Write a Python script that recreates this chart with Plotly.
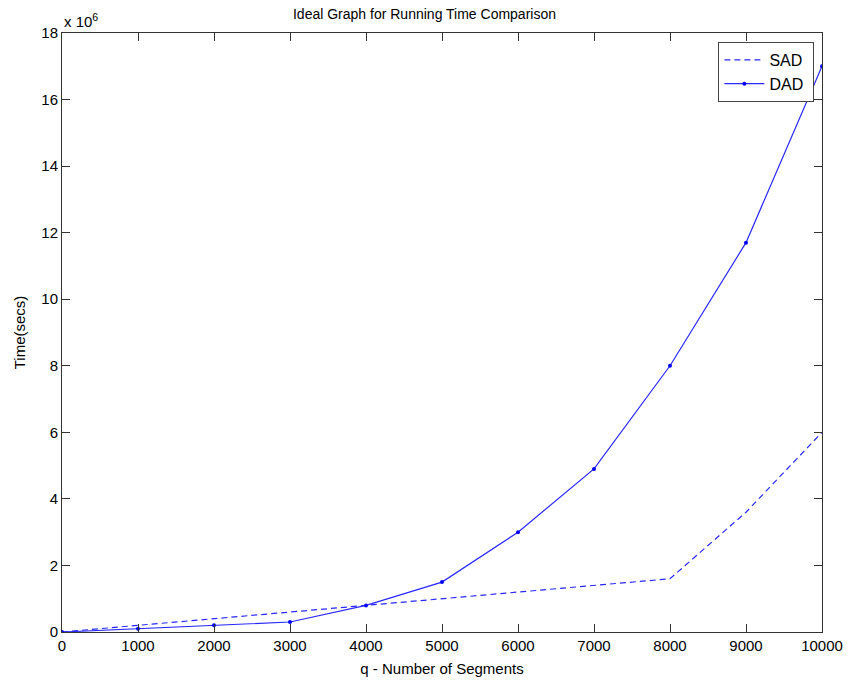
import plotly.graph_objects as go

# Number of segments q
segments = [0, 1000, 2000, 3000, 4000, 5000, 6000, 7000, 8000, 9000, 10000]
# Running time in seconds
sad_time = [0, 0.2e6, 0.4e6, 0.6e6, 0.8e6, 1.0e6, 1.2e6, 1.4e6, 1.6e6, 3.6e6, 6.0e6]
dad_time = [0, 0.1e6, 0.2e6, 0.3e6, 0.8e6, 1.5e6, 3.0e6, 4.9e6, 8.0e6, 11.7e6, 17.0e6]

x_ticks = [0, 1000, 2000, 3000, 4000, 5000, 6000, 7000, 8000, 9000, 10000]
y_ticks = [0, 2, 4, 6, 8, 10, 12, 14, 16, 18]
y_scale = 1e6

font_family = "Liberation Sans, Arial, sans-serif"
blue = "rgb(40,40,255)"

fig = go.Figure()
fig.add_trace(go.Scatter(
    x=segments, y=sad_time, name="SAD ", mode="lines",
    line=dict(color=blue, width=1.2, dash="6px,4px"),
))
fig.add_trace(go.Scatter(
    x=segments, y=dad_time, name="DAD ", mode="lines+markers",
    line=dict(color=blue, width=1.2),
    marker=dict(color="rgb(0,0,255)", size=4, symbol="circle"),
))

axis_common = dict(
    showgrid=False, zeroline=False, showline=True, mirror="ticks",
    linecolor="#333333", linewidth=1, ticks="inside", ticklen=8,
    tickcolor="#333333", automargin=False,
    tickfont=dict(size=15, color="black", family=font_family),
)

fig.update_layout(
    width=849, height=683,
    margin=dict(l=62, r=27, t=33, b=51, autoexpand=False),
    paper_bgcolor="white", plot_bgcolor="white",
    font=dict(family=font_family, color="black", size=15),
    title=dict(text="Ideal Graph for Running Time Comparison",
               x=0.5, xanchor="center", y=1 - 14 / 683, yanchor="middle",
               font=dict(size=14, color="black")),
    xaxis=dict(range=[0, 10000], tickvals=x_ticks,
               ticktext=[str(v) for v in x_ticks],
               title=dict(text="q - Number of Segments", standoff=10,
                          font=dict(size=15)),
               **axis_common),
    yaxis=dict(range=[0, 18 * y_scale], tickvals=[v * y_scale for v in y_ticks],
               ticktext=[str(v) for v in y_ticks],
               title=dict(text="Time(secs)", standoff=12, font=dict(size=15)),
               **axis_common),
    legend=dict(x=0.99, y=0.985, xanchor="right", yanchor="top",
                bgcolor="white", bordercolor="#444444", borderwidth=1,
                font=dict(size=16, color="black"), itemwidth=40,
                tracegroupgap=0),
    showlegend=True,
)

fig.add_annotation(
    text="x 10<sup>6</sup>", xref="paper", yref="paper",
    x=0, y=1, xanchor="left", yanchor="bottom", yshift=1,
    showarrow=False, font=dict(size=15, color="black"),
)

fig.write_html("out.html")
